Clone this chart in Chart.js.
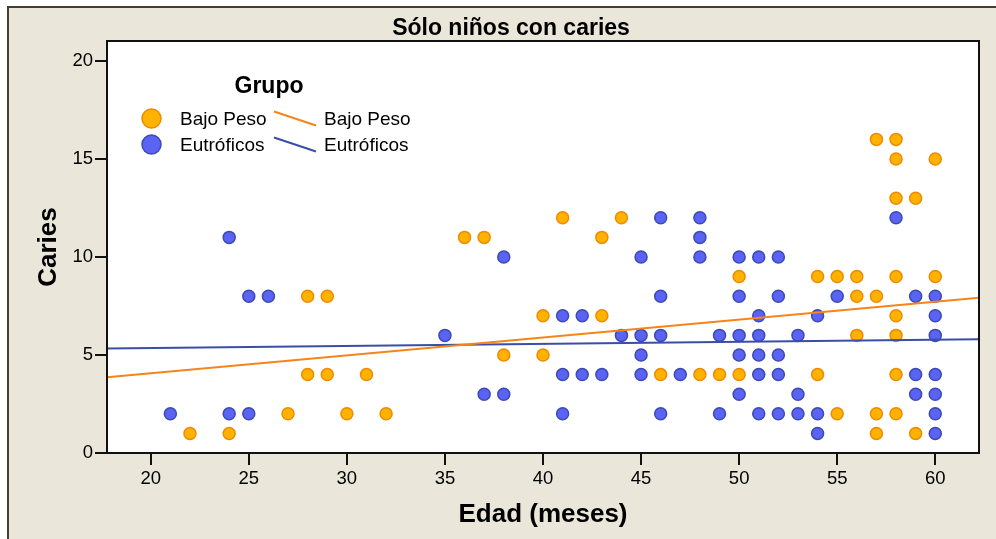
<!DOCTYPE html>
<html>
<head>
<meta charset="utf-8">
<script src="https://cdn.jsdelivr.net/npm/chart.js@4/dist/chart.umd.min.js"></script>
<style>
  html, body { margin: 0; padding: 0; background: #ffffff; }
  #frame {
    position: absolute; left: 7px; top: 6px; right: 0; bottom: 0;
    background: #EAE6D9;
    border-top: 2px solid #463E2E; border-left: 2px solid #463E2E;
  }
  #wrap { position: absolute; left: 0; top: 0; width: 996px; height: 539px; }
</style>
</head>
<body>
<div id="frame"></div>
<div id="wrap"><canvas id="chart" width="996" height="539"></canvas></div>
<script>
// Edad (meses) y número de caries por grupo
const bajoPesoEdad   = [22,24,27,28,28,29,29,30,31,32,36,37,38,40,40,41,43,43,44,46,48,49,50,50,54,54,55,55,56,56,56,57,57,57,57,58,58,58,58,58,58,58,58,59,59,60,60];
const bajoPesoCaries = [1,1,2,8,4,8,4,2,4,2,11,11,5,7,5,12,11,7,12,4,4,4,9,4,9,4,9,2,9,8,6,16,8,2,1,16,15,13,9,7,6,4,2,13,1,15,9];

const eutroficosEdad   = [21,24,24,25,25,26,35,37,38,38,41,41,41,42,42,43,44,45,45,45,45,46,46,46,46,47,48,48,48,49,49,50,50,50,50,50,51,51,51,51,51,51,52,52,52,52,52,53,53,53,54,54,54,55,58,59,59,59,60,60,60,60,60,60,60];
const eutroficosCaries = [2,11,2,8,2,8,6,3,10,3,7,4,2,7,4,4,6,10,6,5,4,12,8,6,2,4,12,11,10,6,2,10,8,6,5,3,10,7,6,5,4,2,10,8,5,4,2,6,3,2,7,2,1,8,12,8,4,3,8,7,6,4,3,2,1];

// Rectas de ajuste lineal: [intercepto, pendiente]
const ajusteBajoPeso   = [2.25, 0.0912];
const ajusteEutroficos = [5.14, 0.0106];

const grupos = ['Bajo Peso', 'Eutróficos'];
const xTicks = [20, 25, 30, 35, 40, 45, 50, 55, 60];
const yTicks = [0, 5, 10, 15, 20];
const X_MIN = 17.77, X_MAX = 62.23, Y_MIN = 0, Y_MAX = 21.02;

const C_ORANGE_FILL = '#FFB300', C_ORANGE_EDGE = '#F08A00', C_ORANGE_LINE = '#F5841A';
const C_BLUE_FILL = '#5A63F3', C_BLUE_EDGE = '#3B4BB3', C_BLUE_LINE = '#3A4EA6';

const FONT = '"Liberation Sans", Arial, sans-serif';

function puntos(xs, ys) { return xs.map((x, i) => ({ x: x, y: ys[i] })); }
function recta(c) { return [X_MIN, X_MAX].map(x => ({ x: x, y: c[0] + c[1] * x })); }

const decor = {
  id: 'decor',
  beforeDatasetsDraw(chart) {
    const { ctx, chartArea: a } = chart;
    ctx.save();
    ctx.fillStyle = '#ffffff';
    ctx.fillRect(a.left, a.top, a.right - a.left, a.bottom - a.top);
    ctx.restore();
  },
  afterDraw(chart) {
    const { ctx, chartArea: a } = chart;
    ctx.save();
    // marco del área de datos
    ctx.strokeStyle = '#111111';
    ctx.lineWidth = 2;
    ctx.strokeRect(a.left, a.top, a.right - a.left, a.bottom - a.top);

    // título
    ctx.fillStyle = '#000000';
    ctx.textAlign = 'center';
    ctx.textBaseline = 'alphabetic';
    ctx.font = 'bold 23px ' + FONT;
    ctx.fillText('Sólo niños con caries', 511, 35);

    // títulos de ejes
    ctx.font = 'bold 26px ' + FONT;
    ctx.fillText('Edad (meses)', (a.left + a.right) / 2, 522);
    ctx.save();
    ctx.translate(56, (a.top + a.bottom) / 2);
    ctx.rotate(-Math.PI / 2);
    ctx.fillText('Caries', 0, 0);
    ctx.restore();

    // leyenda
    ctx.font = 'bold 23px ' + FONT;
    ctx.fillText('Grupo', 269, 93);
    ctx.textAlign = 'left';
    ctx.textBaseline = 'middle';
    ctx.font = '19px ' + FONT;
    const filas = [
      { fill: C_ORANGE_FILL, edge: C_ORANGE_EDGE, line: C_ORANGE_LINE, y: 118.5 },
      { fill: C_BLUE_FILL, edge: C_BLUE_EDGE, line: C_BLUE_LINE, y: 144.5 }
    ];
    filas.forEach((f, i) => {
      ctx.beginPath();
      ctx.arc(151.5, f.y, 9.5, 0, Math.PI * 2);
      ctx.fillStyle = f.fill;
      ctx.fill();
      ctx.lineWidth = 1.5;
      ctx.strokeStyle = f.edge;
      ctx.stroke();
      ctx.fillStyle = '#000000';
      ctx.fillText(grupos[i], 180, f.y + 1);
      ctx.beginPath();
      ctx.moveTo(274, f.y - 7);
      ctx.lineTo(316, f.y + 7);
      ctx.strokeStyle = f.line;
      ctx.lineWidth = 2;
      ctx.stroke();
      ctx.fillStyle = '#000000';
      ctx.fillText(grupos[i], 324, f.y + 1);
    });
    ctx.restore();
  }
};

new Chart(document.getElementById('chart'), {
  type: 'scatter',
  data: {
    datasets: [
      {
        type: 'line', label: grupos[0] + ' (ajuste)', data: recta(ajusteBajoPeso),
        borderColor: C_ORANGE_LINE, borderWidth: 2, pointRadius: 0, fill: false, order: 0
      },
      {
        type: 'line', label: grupos[1] + ' (ajuste)', data: recta(ajusteEutroficos),
        borderColor: C_BLUE_LINE, borderWidth: 2, pointRadius: 0, fill: false, order: 0
      },
      {
        label: grupos[1], data: puntos(eutroficosEdad, eutroficosCaries),
        backgroundColor: C_BLUE_FILL, borderColor: C_BLUE_EDGE, borderWidth: 1.5,
        pointRadius: 6, order: 1
      },
      {
        label: grupos[0], data: puntos(bajoPesoEdad, bajoPesoCaries),
        backgroundColor: C_ORANGE_FILL, borderColor: C_ORANGE_EDGE, borderWidth: 1.5,
        pointRadius: 6, order: 2
      }
    ]
  },
  options: {
    responsive: false,
    animation: false,
    events: [],
    layout: { padding: { left: 0, top: 41, right: 17, bottom: 0 } },
    plugins: { legend: { display: false }, title: { display: false }, tooltip: { enabled: false } },
    scales: {
      x: {
        type: 'linear', min: X_MIN, max: X_MAX,
        afterBuildTicks: s => { s.ticks = xTicks.map(v => ({ value: v })); },
        afterFit: s => { s.height = 86; },
        grid: { drawOnChartArea: false, drawTicks: true, tickLength: 12, color: '#111111', lineWidth: 2 },
        border: { display: false },
        ticks: { color: '#000000', font: { family: FONT, size: 18.5 }, padding: 3, maxRotation: 0 }
      },
      y: {
        type: 'linear', min: Y_MIN, max: Y_MAX,
        afterBuildTicks: s => { s.ticks = yTicks.map(v => ({ value: v })); },
        afterFit: s => { s.width = 107; },
        grid: { drawOnChartArea: false, drawTicks: true, tickLength: 12, color: '#111111', lineWidth: 2 },
        border: { display: false },
        ticks: { color: '#000000', font: { family: FONT, size: 18.5 }, padding: 2 }
      }
    }
  },
  plugins: [decor]
});
</script>
</body>
</html>
